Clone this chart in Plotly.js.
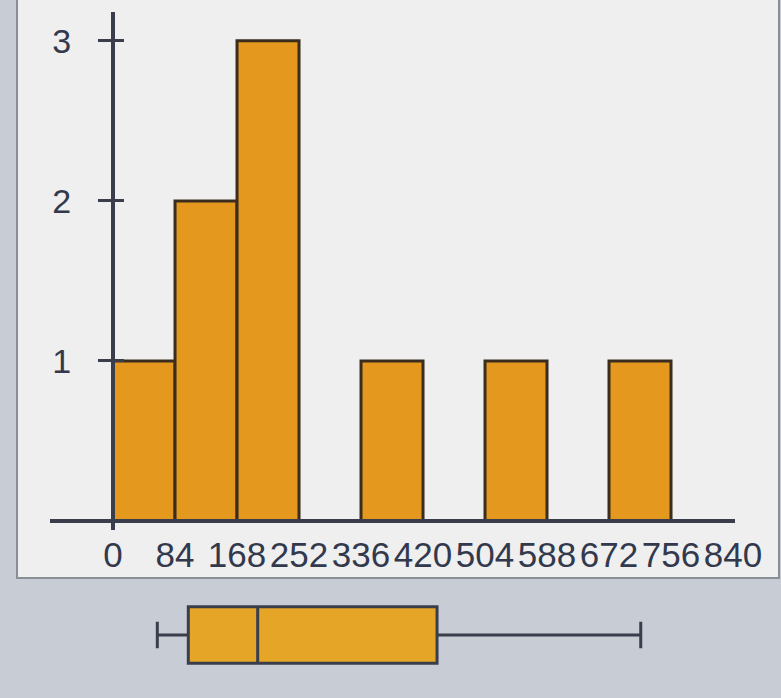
<!DOCTYPE html>
<html><head><meta charset="utf-8">
<script src="https://cdn.plot.ly/plotly-3.0.1.min.js"></script>
<style>html,body{margin:0;padding:0;background:#c7ccd5;}#chart{width:781px;height:698px;}</style>
</head><body><div id="chart"></div>
<script>
// Histogram data (bin width 84)
const binStarts = [0, 84, 168, 252, 336, 420, 504, 588, 672, 756];
const binCounts = [1, 2, 3, 0, 1, 0, 1, 0, 1, 0];
const binWidth = 84;
const xTickVals = [0, 84, 168, 252, 336, 420, 504, 588, 672, 756, 840];
const xTickText = ["0", "84", "168", "252", "336", "420", "504", "588", "672", "756", "840"];
const yTickVals = [1, 2, 3];
// Box plot summary
const boxLowerFence = [60];
const boxQ1 = [102];
const boxMedian = [196];
const boxQ3 = [439];
const boxUpperFence = [715];

const W = 781, H = 698;
const xDomain = [50 / W, 735 / W];
const xRange = [-85.4, 842.7];
const yDomain = [(H - 530) / H, (H - 12) / H];
const yRange = [-0.056, 3.18];
const y2Domain = [(H - 680) / H, (H - 590) / H];

const yAxisPos = xDomain[0] + (0 - xRange[0]) / (xRange[1] - xRange[0]) * (xDomain[1] - xDomain[0]);
const xAxisPos = yDomain[0] + (0 - yRange[0]) / (yRange[1] - yRange[0]) * (yDomain[1] - yDomain[0]);

const axisColor = '#3a3e4c';
const textColor = '#33394d';
const outline = '#3a2c1e';

const traces = [
  {
    type: 'bar', x: binStarts, y: binCounts, width: binWidth, offset: 0,
    xaxis: 'x', yaxis: 'y',
    marker: {color: '#e5981e', line: {color: outline, width: 3}},
    hoverinfo: 'skip', showlegend: false
  },
  {
    type: 'box', orientation: 'h', y: [0],
    q1: boxQ1, median: boxMedian, q3: boxQ3,
    lowerfence: boxLowerFence, upperfence: boxUpperFence,
    xaxis: 'x', yaxis: 'y2', boxpoints: false,
    width: 0.63, whiskerwidth: 0.47,
    fillcolor: '#e5a628', line: {color: axisColor, width: 3},
    hoverinfo: 'skip', showlegend: false
  },
  // empty trace so the overlaying tick axis is drawn
  {type: 'scatter', x: [null], y: [null], xaxis: 'x', yaxis: 'y3', hoverinfo: 'skip', showlegend: false}
];

const layout = {
  width: W, height: H,
  margin: {l: 0, r: 0, t: 0, b: 0},
  paper_bgcolor: '#c7ccd5', plot_bgcolor: 'rgba(0,0,0,0)',
  showlegend: false,
  xaxis: {
    domain: xDomain, range: xRange, anchor: 'free', position: xAxisPos,
    showline: true, linecolor: axisColor, linewidth: 4,
    showgrid: false, zeroline: false, ticks: '',
    tickmode: 'array', tickvals: xTickVals, ticktext: xTickText,
    tickfont: {family: 'Liberation Sans, Arial, sans-serif', size: 35, color: textColor},
    ticklabelstandoff: 2, fixedrange: true
  },
  yaxis: {
    domain: yDomain, range: yRange, anchor: 'free', position: yAxisPos,
    showline: true, linecolor: axisColor, linewidth: 4,
    showgrid: false, zeroline: false, ticks: 'outside', ticklen: 13, tickwidth: 3, tickcolor: axisColor,
    tickmode: 'array', tickvals: yTickVals,
    tickfont: {family: 'Liberation Sans, Arial, sans-serif', size: 34, color: textColor},
    ticklabelstandoff: 20, fixedrange: true
  },
  yaxis3: {
    overlaying: 'y', matches: 'y', anchor: 'free', position: yAxisPos,
    showline: false, showgrid: false, zeroline: false,
    ticks: 'inside', ticklen: 10, tickwidth: 3, tickcolor: axisColor,
    tickmode: 'array', tickvals: yTickVals, showticklabels: false
  },
  yaxis2: {
    domain: y2Domain, range: [-0.5, 0.5], anchor: 'x', visible: false, fixedrange: true
  },
  shapes: [
    {type: 'rect', xref: 'paper', yref: 'paper', layer: 'below',
     x0: 17 / W, x1: 779 / W, y0: (H - 578) / H, y1: 1.02,
     fillcolor: '#efefef', line: {color: '#8a8e96', width: 2}}
  ]
};

Plotly.newPlot('chart', traces, layout, {displayModeBar: false, staticPlot: true});
</script>
</body></html>
